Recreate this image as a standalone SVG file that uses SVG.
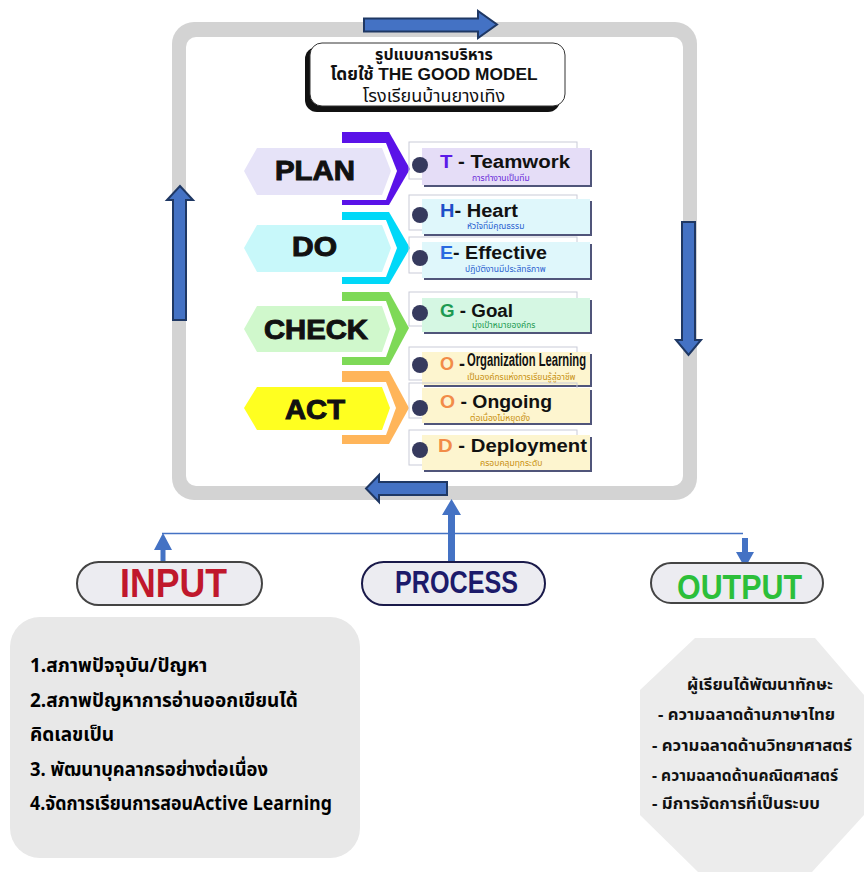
<svg xmlns="http://www.w3.org/2000/svg" width="866" height="876" viewBox="0 0 866 876">
<style>
.th{font-family:"Noto Sans Thai","Loma","Garuda","Tahoma","Noto Sans","DejaVu Sans",sans-serif}
.lbl{font-family:"Liberation Sans",Arial,sans-serif;font-weight:bold;fill:#111;stroke:#111;stroke-width:1}
.item{font-family:"Liberation Sans",Arial,sans-serif;font-weight:bold;font-size:18px;fill:#111}
.sub{font-size:8.5px}
.blk{fill:#4472c4;stroke:#1f3864;stroke-width:2;stroke-linejoin:miter}
.dot{fill:#363a5e}
.ol{fill:none;stroke:#c9cbd8;stroke-width:1}
.sh{fill:#50557a}
.pill{fill:#ececf1;stroke-width:2}
.pio{font-family:"Liberation Sans",Arial,sans-serif;font-weight:bold}
.bt{font-weight:bold;font-size:19px;fill:#000}
.ot{font-weight:bold;font-size:16.5px;fill:#111}
</style>
<rect width="866" height="876" fill="#fff"/>

<g id="frame">
<rect x="172" y="22" width="525" height="478" rx="22" fill="#d3d3d3"/>
<rect x="186" y="37" width="497" height="449" rx="10" fill="#fff"/>
</g>

<g id="title">
<rect x="305" y="47" width="255" height="65" rx="12" fill="#111"/>
<rect x="310" y="43" width="255" height="63" rx="12" fill="#fff" stroke="#333" stroke-width="1"/>
<text class="th" x="434" y="60" text-anchor="middle" font-size="16" font-weight="bold" fill="#111">รูปแบบการบริหาร</text>
<text class="th" x="434" y="80" text-anchor="middle" font-size="17" font-weight="bold" fill="#111" textLength="207" lengthAdjust="spacingAndGlyphs">โดยใช้ <tspan font-family="Liberation Sans,Arial,sans-serif">THE GOOD MODEL</tspan></text>
<text class="th" x="434" y="102" text-anchor="middle" font-size="18" fill="#111">โรงเรียนบ้านยางเทิง</text>
</g>

<g id="plan">
<polygon points="342,132 389,132 410,169 389,205 342,205" fill="#5a12e8"/>
<polygon points="238,171 254,143 386,143 397,171 386,200 254,200" fill="#fff"/>
<polygon points="244,171 257,148 382,148 391,171 382,195 257,195" fill="#e6e3f8"/>
<text class="lbl" x="275" y="180" font-size="28" textLength="80" lengthAdjust="spacingAndGlyphs">PLAN</text>
</g>
<g id="do">
<polygon points="342,212 389,212 410,248 389,284 342,284" fill="#00d8f8"/>
<polygon points="238,248 254,220 386,220 397,248 386,277 254,277" fill="#fff"/>
<polygon points="244,248 257,225 382,225 391,248 382,272 257,272" fill="#c8f8fa"/>
<text class="lbl" x="292" y="256" font-size="27" textLength="45" lengthAdjust="spacingAndGlyphs">DO</text>
</g>
<g id="check">
<polygon points="342,292 389,292 409,328 389,365 342,365" fill="#7ed957"/>
<polygon points="238,329 254,301 386,301 396,329 386,357 254,357" fill="#fff"/>
<polygon points="244,329 257,306 382,306 390,329 382,352 257,352" fill="#d0f8cc"/>
<text class="lbl" x="264" y="339" font-size="27" textLength="104" lengthAdjust="spacingAndGlyphs">CHECK</text>
</g>
<g id="act">
<polygon points="342,371 389,371 409,408 389,444 342,444" fill="#ffb55a"/>
<polygon points="238,408 254,382 386,382 396,408 386,435 254,435" fill="#fff"/>
<polygon points="244,408 257,387 382,387 390,408 382,430 257,430" fill="#ffff20"/>
<text class="lbl" x="285" y="419" font-size="27" textLength="60" lengthAdjust="spacingAndGlyphs">ACT</text>
</g>

<g id="item-t">
<rect class="ol" x="409" y="142" width="168" height="37"/>
<rect class="sh" x="424" y="150" width="168" height="37"/>
<rect x="422" y="148" width="168" height="37" fill="#e5ddf7"/>
<circle class="dot" cx="420" cy="165" r="8"/>
<text class="item" x="440" y="168" textLength="130" lengthAdjust="spacingAndGlyphs"><tspan fill="#5b1ae8">T</tspan> - Teamwork</text>
<text class="th sub" x="472" y="181" fill="#6a2ad8">การทำงานเป็นทีม</text>
</g>
<g id="item-h">
<rect class="ol" x="409" y="195" width="168" height="35"/>
<rect class="sh" x="424" y="201" width="168" height="35"/>
<rect x="422" y="199" width="168" height="35" fill="#dff7fb"/>
<circle class="dot" cx="420" cy="215" r="8"/>
<text class="item" x="440" y="217" textLength="78" lengthAdjust="spacingAndGlyphs"><tspan fill="#1e4fc8">H</tspan>- Heart</text>
<text class="th sub" x="467" y="229" fill="#2a5fd0">หัวใจที่มีคุณธรรม</text>
</g>
<g id="item-e">
<rect class="ol" x="409" y="237" width="168" height="36"/>
<rect class="sh" x="424" y="244" width="168" height="36"/>
<rect x="422" y="242" width="168" height="36" fill="#dff7fb"/>
<circle class="dot" cx="420" cy="258" r="8"/>
<text class="item" x="440" y="259" textLength="107" lengthAdjust="spacingAndGlyphs"><tspan fill="#2a6ae0">E</tspan>- Effective</text>
<text class="th sub" x="465" y="272" fill="#2a5fd0">ปฏิบัติงานมีประสิทธิภาพ</text>
</g>
<g id="item-g">
<rect class="ol" x="409" y="292" width="168" height="34"/>
<rect class="sh" x="424" y="300" width="168" height="34"/>
<rect x="422" y="298" width="168" height="34" fill="#d5f7e3"/>
<circle class="dot" cx="420" cy="313" r="8"/>
<text class="item" x="440" y="317" textLength="73" lengthAdjust="spacingAndGlyphs"><tspan fill="#1d9a52">G</tspan> - Goal</text>
<text class="th sub" x="472" y="328" fill="#1d9a52">มุ่งเป้าหมายองค์กร</text>
</g>
<g id="item-o1">
<rect class="ol" x="409" y="347" width="168" height="33"/>
<rect class="sh" x="424" y="354" width="168" height="33"/>
<rect x="422" y="352" width="168" height="33" fill="#fdf5cf"/>
<circle class="dot" cx="420" cy="365" r="8"/>
<text class="item" x="440" y="370"><tspan fill="#f28c48">O</tspan> -</text>
<text class="item" x="467" y="366" font-size="12" textLength="119" lengthAdjust="spacingAndGlyphs">Organization Learning</text>
<text class="th sub" x="467" y="380" fill="#c89010">เป็นองค์กรแห่งการเรียนรู้สู่อาชีพ</text>
</g>
<g id="item-o2">
<rect class="ol" x="409" y="383" width="168" height="35"/>
<rect class="sh" x="424" y="390" width="168" height="35"/>
<rect x="422" y="388" width="168" height="35" fill="#fdf5cf"/>
<circle class="dot" cx="420" cy="408" r="8"/>
<text class="item" x="440" y="408" textLength="112" lengthAdjust="spacingAndGlyphs"><tspan fill="#f28c48">O</tspan> - Ongoing</text>
<text class="th sub" x="470" y="421" fill="#c89010">ต่อเนื่องไม่หยุดยั้ง</text>
</g>
<g id="item-d">
<rect class="ol" x="409" y="430" width="168" height="35"/>
<rect class="sh" x="424" y="437" width="168" height="35"/>
<rect x="422" y="435" width="168" height="35" fill="#fdf5cf"/>
<circle class="dot" cx="420" cy="450" r="8"/>
<text class="item" x="438" y="452" textLength="149" lengthAdjust="spacingAndGlyphs"><tspan fill="#f28c48">D</tspan> - Deployment</text>
<text class="th sub" x="480" y="466" fill="#c89010">ครอบคลุมทุกระดับ</text>
</g>

<g id="connectors">
<polygon class="blk" points="364,18.5 478,18.5 478,11 497,24.5 478,38 478,31.5 364,31.5"/>
<polygon class="blk" points="682,222 695,222 695,340 701,340 688.5,355 676,340 682,340"/>
<polygon class="blk" points="447,482 379,482 379,475 366,488.5 379,502 379,495 447,495"/>
<polygon class="blk" points="173,320 173,200 167,200 180,186 193,200 186,200 186,320"/>
<line x1="162" y1="533.5" x2="743" y2="533.5" stroke="#4472c4" stroke-width="1.5"/>
<polygon points="448,562 448,515 442,515 451.5,499 461,515 455,515 455,562" fill="#4472c4"/>
<polygon points="160.5,562 160.5,550 154,550 163,533 172,550 165.5,550 165.5,562" fill="#4472c4"/>
<polygon points="742,538 748,538 748,552 754,552 745,568 736,552 742,552" fill="#4472c4"/>
</g>

<g id="input">
<rect class="pill" x="77" y="562" width="185" height="43" rx="21.5" stroke="#444"/>
<text class="pio" x="120" y="597" font-size="40" fill="#c0182c" textLength="107" lengthAdjust="spacingAndGlyphs">INPUT</text>
</g>
<g id="process">
<rect class="pill" x="362" y="562" width="183" height="43" rx="21.5" stroke="#1a1a4a"/>
<text class="pio" x="395" y="593" font-size="32" fill="#1c1a6a" textLength="123" lengthAdjust="spacingAndGlyphs">PROCESS</text>
</g>
<g id="output">
<rect class="pill" x="651" y="563" width="172" height="40" rx="20" stroke="#444"/>
<text class="pio" x="677" y="599" font-size="35" fill="#2cbf3a" textLength="125" lengthAdjust="spacingAndGlyphs">OUTPUT</text>
</g>

<g id="input-box">
<rect x="10" y="617" width="350" height="241" rx="30" fill="#e8e8e8"/>
<text class="th bt" x="30" y="672">1.สภาพปัจจุบัน/ปัญหา</text>
<text class="th bt" x="30" y="707">2.สภาพปัญหาการอ่านออกเขียนได้</text>
<text class="th bt" x="30" y="741">คิดเลขเป็น</text>
<text class="th bt" x="30" y="776" textLength="238" lengthAdjust="spacingAndGlyphs">3. พัฒนาบุคลากรอย่างต่อเนื่อง</text>
<text class="th bt" x="30" y="810" textLength="302" lengthAdjust="spacingAndGlyphs">4.จัดการเรียนการสอนActive Learning</text>
</g>

<g id="output-box">
<polygon points="695,638 815,638 864,695 864,815 812,872 698,872 640,815 640,690" fill="#ececec"/>
<text class="th ot" x="760" y="690" text-anchor="middle" textLength="146" lengthAdjust="spacingAndGlyphs">ผู้เรียนได้พัฒนาทักษะ</text>
<text class="th ot" x="658" y="720" textLength="177" lengthAdjust="spacingAndGlyphs">- ความฉลาดด้านภาษาไทย</text>
<text class="th ot" x="652" y="751" textLength="200" lengthAdjust="spacingAndGlyphs">- ความฉลาดด้านวิทยาศาสตร์</text>
<text class="th ot" x="652" y="781" textLength="186" lengthAdjust="spacingAndGlyphs">- ความฉลาดด้านคณิตศาสตร์</text>
<text class="th ot" x="652" y="809" textLength="168" lengthAdjust="spacingAndGlyphs">- มีการจัดการที่เป็นระบบ</text>
</g>
</svg>
